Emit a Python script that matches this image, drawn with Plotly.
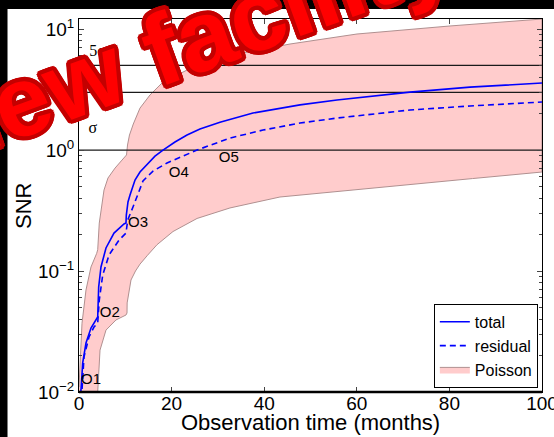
import plotly.graph_objects as go

# SNR versus observation time
time_total = [0, 0.43, 0.8, 1.51, 2.59, 3.82, 4.04, 4.25, 4.75, 5.83, 7.56, 9.72, 10.15,
              10.22, 10.58, 11.02, 12.1, 13.17, 14.69, 16.41, 18.14, 20.73, 23.33, 26.13,
              30.45, 37.58, 47.73, 55.72, 71.49, 84.45, 100]
snr_total = [0.007, 0.0104, 0.0174, 0.0254, 0.0338, 0.041, 0.0417, 0.0738, 0.108, 0.155, 0.206,
             0.245, 0.249, 0.29, 0.372, 0.425, 0.565, 0.658, 0.766, 0.891, 1.0, 1.165, 1.33,
             1.49, 1.70, 2.02, 2.36, 2.59, 3.01, 3.31, 3.58]

time_resid = [0, 0.65, 1.08, 2.16, 3.24, 4.04, 4.38, 5.12, 6.48, 8.64, 10.15, 10.52, 11.66,
              12.74, 13.82, 15.98, 19.01, 25.49, 32.61, 39.74, 47.73, 55.72, 71.49, 84.45, 100]
snr_resid = [0.006, 0.0104, 0.0195, 0.0285, 0.0344, 0.0372, 0.0575, 0.0927, 0.1355, 0.18,
             0.206, 0.264, 0.338, 0.442, 0.555, 0.67, 0.781, 1.0, 1.256, 1.462, 1.671, 1.837,
             2.143, 2.312, 2.495]

# Poisson band: upper and lower envelopes
time_upper = [0, 0.65, 1.51, 2.59, 3.82, 4.04, 4.38, 4.97, 5.4, 6.26, 7.78, 9.29, 10.26, 10.48,
              10.9, 11.73, 13.17, 15.33, 18.14, 23.33, 27.65, 33.26, 40.6, 45.57, 60.04, 80.13, 100]
snr_upper = [0.011, 0.037, 0.0697, 0.108, 0.14, 0.15, 0.249, 0.365, 0.467, 0.587, 0.709, 0.826,
             0.91, 1.10, 1.33, 1.64, 2.22, 2.85, 3.65, 4.58, 5.24, 6.10, 6.96, 7.52, 9.10, 10.6, 12.1]

time_lower = [0, 4.0, 4.04, 4.54, 5.83, 7.99, 10.15, 10.37, 10.4, 11.23, 12.2, 13.17, 14.8,
              16.85, 20.3, 25.5, 32.6, 43.4, 56.0, 70.6, 85.0, 100]
snr_lower = [0.001, 0.001, 0.01, 0.0222, 0.0325, 0.0394, 0.0433, 0.045, 0.0545, 0.0843, 0.100,
             0.114, 0.135, 0.165, 0.212, 0.272, 0.332, 0.409, 0.454, 0.514, 0.581, 0.658]

# significance levels
sigma_levels = [1, 3, 5]
sigma_labels = ["σ", "3σ", "5σ"]
sigma_label_t = [3.0, 4.0, 4.0]
sigma_label_snr = [1.49, 3.93, 6.46]

# observation markers
obs_labels = ["O1", "O2", "O3", "O4", "O5"]
obs_label_t = [0.43, 4.5, 10.6, 19.4, 30.2]
obs_label_snr = [0.0126, 0.045, 0.249, 0.645, 0.859]

x_ticks = [0, 20, 40, 60, 80, 100]
y_ticks = [0.01, 0.1, 1, 10]
y_tick_text = ["10<sup>−2</sup>", "10<sup>−1</sup>", "10<sup>0</sup>", "10<sup>1</sup>"]
y_minor = [m * 10.0 ** e for e in (-2, -1, 0) for m in range(2, 10)]

FONT = "Liberation Sans, Arial, Helvetica, sans-serif"
BLUE = "#0000ff"

fig = go.Figure()

fig.add_trace(go.Scatter(
    x=time_upper + time_lower[::-1], y=snr_upper + snr_lower[::-1],
    mode="lines", fill="toself", fillcolor="#ffcccc",
    line=dict(color="#b09090", width=1), name="Poisson", legendrank=3,
    hoverinfo="skip"))

for lvl in sigma_levels:
    fig.add_trace(go.Scatter(x=[0, 100], y=[lvl, lvl], mode="lines",
                             line=dict(color="#1a1a1a", width=1.2),
                             showlegend=False, hoverinfo="skip"))

fig.add_trace(go.Scatter(x=time_total, y=snr_total, mode="lines", name="total",
                         line=dict(color=BLUE, width=1.6), legendrank=1))
fig.add_trace(go.Scatter(x=time_resid, y=snr_resid, mode="lines", name="residual",
                         line=dict(color=BLUE, width=1.6, dash="6px,4px"), legendrank=2))

fig.add_trace(go.Scatter(x=obs_label_t, y=obs_label_snr, mode="text", text=obs_labels,
                         textposition="middle right", showlegend=False,
                         textfont=dict(family=FONT, size=15, color="black"), hoverinfo="skip"))
fig.add_trace(go.Scatter(x=sigma_label_t, y=sigma_label_snr, mode="text", text=sigma_labels,
                         textposition="middle center", showlegend=False,
                         textfont=dict(family="Liberation Serif, Times New Roman, serif",
                                       size=16, color="black"), hoverinfo="skip"))

fig.update_xaxes(range=[0, 100], tickvals=x_ticks, ticks="inside", ticklen=5,
                 tickcolor="#444", mirror="ticks", showline=True, linecolor="black",
                 linewidth=1, showgrid=False, zeroline=False, automargin=False,
                 ticklabeloverflow="allow", ticklabelstandoff=-6,
                 tickfont=dict(family=FONT, size=19, color="black"))
fig.update_yaxes(type="log", range=[-2, 1.083], tickvals=y_ticks, ticktext=y_tick_text,
                 ticks="inside", ticklen=5, tickcolor="#444", mirror="ticks", showline=True,
                 linecolor="black", linewidth=1, showgrid=False, zeroline=False,
                 automargin=False, ticklabeloverflow="allow",
                 tickfont=dict(family=FONT, size=19, color="black"),
                 minor=dict(tickvals=y_minor, ticks="inside", ticklen=3, tickcolor="#444",
                            showgrid=False))

shadow = ", ".join(f"{dx}px {dy}px 0 #c40000" for dx, dy in
                   [(4, 0), (-4, 0), (0, 4), (0, -4), (3, 3), (-3, -3), (3, -3), (-3, 3),
                    (2, 4), (-2, 4), (2, -4), (-2, -4), (4, 2), (-4, 2), (4, -2), (-4, -2)])

fig.update_layout(
    width=554, height=437,
    margin=dict(l=79, r=12, t=19, b=45),
    paper_bgcolor="white", plot_bgcolor="white",
    showlegend=True,
    legend=dict(x=0.991, y=0.011, xanchor="right", yanchor="bottom",
                bgcolor="white", bordercolor="black", borderwidth=1,
                font=dict(family=FONT, size=16, color="black"),
                itemwidth=30, tracegroupgap=0),
    shapes=[
        dict(type="rect", xref="paper", yref="paper", x0=-0.2, x1=-0.1544, y0=-0.2, y1=1.2,
             fillcolor="black", line=dict(width=0), layer="above"),
        dict(type="rect", xref="paper", yref="paper", x0=-0.2, x1=1.1, y0=1.0268, y1=1.2,
             fillcolor="black", line=dict(width=0), layer="above"),
        dict(type="line", xref="paper", yref="paper", x0=0, x1=1, y0=0, y1=0,
             line=dict(color="black", width=2.5), layer="above"),
    ],
    annotations=[
        dict(text="Observation time (months)", xref="paper", yref="paper", x=0.5, y=-0.083,
             showarrow=False, xanchor="center", yanchor="middle",
             font=dict(family=FONT, size=22, color="black")),
        dict(text="SNR", xref="paper", yref="paper", x=-0.1188, y=0.4987, textangle=-90,
             showarrow=False, xanchor="center", yanchor="middle",
             font=dict(family=FONT, size=22, color="black")),
        dict(text="new facility", xref="paper", yref="paper", x=0.2408, y=0.9464,
             textangle=-20, showarrow=False, xanchor="center", yanchor="middle",
             font=dict(family=FONT, size=100, color="#ff0000", weight="bold", shadow=shadow)),
    ],
)

fig.write_html("out.html")
